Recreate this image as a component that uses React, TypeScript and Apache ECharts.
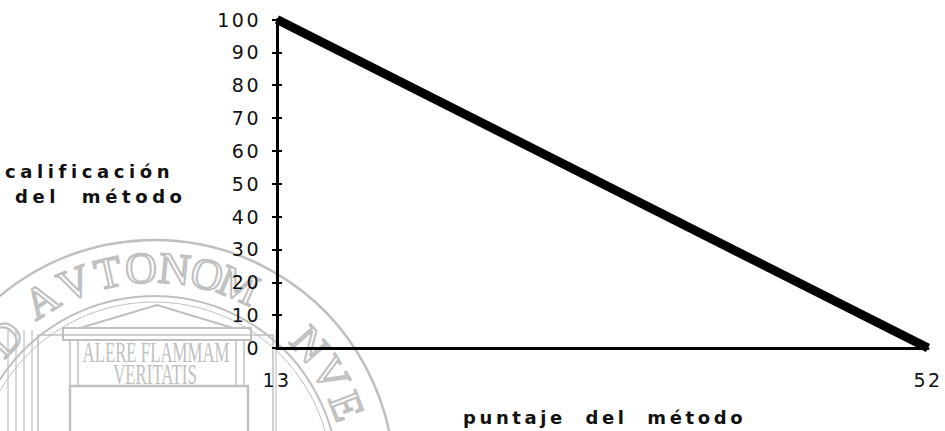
import React, { useEffect, useRef } from "react";
import * as echarts from "echarts";

const xValues = [13, 52];
const yValues = [100, 0];
const xTickLabels = [13, 52];
const yName = ["calificación", "del  método"];
const xName = "puntaje  del  método";

const sealLetters = ["D", "A", "V", "T", "O", "N", "O", "M", "N", "V", "E"];
const sealAngles = [-46.5, -32, -22, -12.5, -3.5, 5.5, 14.5, 23.5, 49, 59, 69];

const GRAY = "#c0c0c0";

function buildSeal(): any[] {
  const cx = 154;
  const cy = 480;
  const r = 212;
  const els: any[] = [];
  els.push({ type: "circle", z: -5, shape: { cx, cy, r: 240 }, style: { fill: "none", stroke: GRAY, lineWidth: 2.5 } });
  els.push({ type: "circle", z: -5, shape: { cx, cy, r: 184 }, style: { fill: "none", stroke: GRAY, lineWidth: 2 } });
  els.push({ type: "circle", z: -5, shape: { cx, cy, r: 178 }, style: { fill: "none", stroke: GRAY, lineWidth: 1 } });
  sealLetters.forEach((ch, i) => {
    const t = (sealAngles[i] * Math.PI) / 180;
    const rr = i >= 8 ? 206 : i === 0 ? 206 : r;
    els.push({
      type: "text",
      z: -5,
      x: cx + rr * Math.sin(t),
      y: cy - rr * Math.cos(t),
      rotation: -t,
      style: {
        text: ch,
        font: "44px 'Liberation Serif'",
        fill: "rgba(255,255,255,0)",
        stroke: GRAY,
        lineWidth: 2,
        align: "center",
        verticalAlign: "middle",
      },
    });
  });
  els.push({ type: "polygon", z: -5, shape: { points: [[80, 328], [157, 305], [233, 328]] }, style: { fill: "none", stroke: GRAY, lineWidth: 2 } });
  els.push({ type: "rect", z: -5, shape: { x: 63, y: 328, width: 188, height: 12 }, style: { fill: "none", stroke: GRAY, lineWidth: 2 } });
  [70, 78, 236, 244].forEach((x) => {
    els.push({ type: "line", z: -5, shape: { x1: x, y1: 340, x2: x, y2: 386 }, style: { stroke: GRAY, lineWidth: 1.5 } });
  });
  els.push({ type: "rect", z: -5, shape: { x: 70, y: 386, width: 178, height: 70 }, style: { fill: "none", stroke: GRAY, lineWidth: 2.5 } });
  els.push({ type: "rect", z: -5, shape: { x: 38, y: 335, width: 235, height: 120 }, style: { fill: "none", stroke: GRAY, lineWidth: 1.5 } });
  [8, 16, 24, 32, 276].forEach((x) => {
    els.push({ type: "line", z: -5, shape: { x1: x, y1: 330, x2: x, y2: 431 }, style: { stroke: GRAY, lineWidth: 1.2 } });
  });
  els.push({
    type: "text", z: -5, x: 156, y: 352, scaleX: 0.56,
    style: { text: "ALERE FLAMMAM", font: "30px 'Liberation Serif'", fill: GRAY, align: "center", verticalAlign: "middle" },
  });
  els.push({
    type: "text", z: -5, x: 155, y: 374, scaleX: 0.56,
    style: { text: "VERITATIS", font: "30px 'Liberation Serif'", fill: GRAY, align: "center", verticalAlign: "middle" },
  });
  return els;
}

export default function App() {
  const ref = useRef<HTMLDivElement>(null);
  useEffect(() => {
    if (!ref.current) return;
    const chart = echarts.init(ref.current, null, { renderer: "svg" });
    const nameFont = "bold 18px 'DejaVu Sans'";
    chart.setOption({
      animation: false,
      backgroundColor: "#ffffff",
      grid: { left: 277, right: 17, top: 19.5, bottom: 83, containLabel: false },
      xAxis: {
        type: "value",
        min: xValues[0],
        max: xValues[xValues.length - 1],
        splitLine: { show: false },
        axisLine: { show: true, onZero: false, lineStyle: { color: "#000", width: 3 } },
        axisTick: { show: false },
        axisLabel: {
          customValues: xTickLabels,
          margin: 22,
          fontFamily: "DejaVu Sans",
          fontSize: 19,
          color: "#111",
        },
      },
      yAxis: [
        {
          type: "value",
          min: 0,
          max: 100,
          interval: 10,
          splitLine: { show: false },
          axisLine: { show: true, lineStyle: { color: "#000", width: 3 } },
          axisTick: { show: true, length: 5, lineStyle: { color: "#000", width: 2 } },
          axisLabel: { margin: 16, fontFamily: "DejaVu Sans", fontSize: 19, color: "#111" },
        },
        {
          type: "value",
          position: "left",
          min: 0,
          max: 100,
          interval: 10,
          splitLine: { show: false },
          axisLine: { show: false },
          axisTick: { show: true, inside: true, length: 5, lineStyle: { color: "#000", width: 2 } },
          axisLabel: { show: false },
        },
      ],
      graphic: [
        ...buildSeal(),
        { type: "text", x: 5, y: 171, style: { text: yName[0], font: nameFont, fill: "#111", align: "left", verticalAlign: "middle" } },
        { type: "text", x: 15, y: 196, style: { text: yName[1], font: nameFont, fill: "#111", align: "left", verticalAlign: "middle" } },
        { type: "text", x: 463, y: 417, style: { text: xName, font: nameFont, fill: "#111", align: "left", verticalAlign: "middle" } },
      ],
      series: [
        {
          type: "line",
          yAxisIndex: 0,
          data: xValues.map((x, i) => [x, yValues[i]]),
          symbol: "none",
          lineStyle: { color: "#000", width: 9 },
          z: 5,
        },
      ],
    });
    const names = new Set([...yName, xName]);
    const applySpacing = () => {
      const texts = ref.current?.querySelectorAll("text");
      if (!texts) return;
      texts.forEach((t) => {
        const raw = t.textContent || "";
        const s = raw.trim();
        if (names.has(s) || names.has(raw)) {
          (t as SVGTextElement).style.letterSpacing = s === xName ? "3.6px" : "4.6px";
        } else if (/^\d+$/.test(s)) {
          (t as SVGTextElement).style.letterSpacing = "2.5px";
        }
      });
    };
    chart.on("finished", applySpacing);
    applySpacing();
    const timer = setTimeout(applySpacing, 30);
    return () => {
      clearTimeout(timer);
      chart.dispose();
    };
  }, []);
  return <div ref={ref} style={{ width: 945, height: 431, position: "absolute", left: 0, top: 0 }} />;
}
